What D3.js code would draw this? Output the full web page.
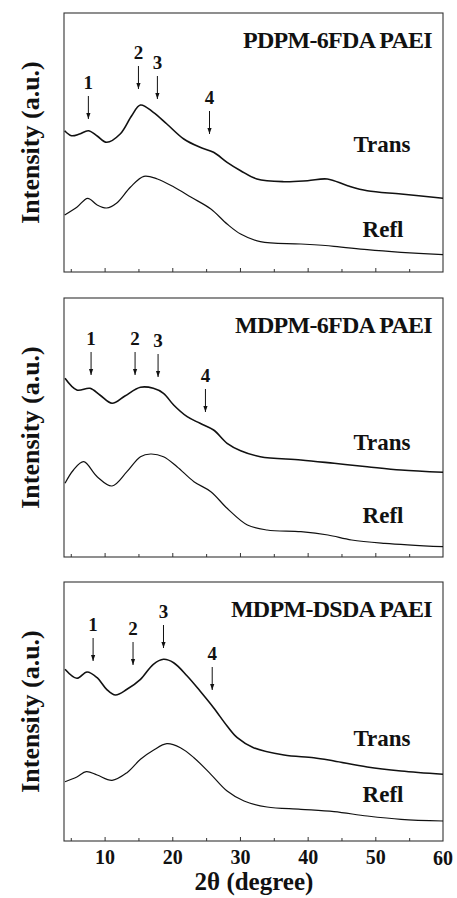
<!DOCTYPE html>
<html>
<head>
<meta charset="utf-8">
<script src="https://cdn.jsdelivr.net/npm/d3@7"></script>
<style>
  html, body { margin: 0; padding: 0; background: #fff; }
  svg { display: block; }
  text { font-family: "Liberation Serif", "Times New Roman", serif; font-weight: bold; fill: #111; }
</style>
</head>
<body>
<svg id="chart" width="457" height="898"></svg>
<script>
// ---------------- DATA ----------------
const xTickValues = [10, 20, 30, 40, 50, 60];
const panelTitles = ["PDPM-6FDA PAEI", "MDPM-6FDA PAEI", "MDPM-DSDA PAEI"];
const seriesNames = ["Trans", "Refl"];
const peakLabels = ["1", "2", "3", "4"];

// peak positions (2θ) marked by arrows
const peaks1 = [7.6, 15.0, 17.8, 25.5];
const peaks2 = [8.0, 14.5, 17.9, 24.9];
const peaks3 = [8.3, 14.2, 18.7, 25.9];

// intensity (a.u.) at the arrow tips
const peakTips1 = [153, 183, 173, 138];
const peakTips2 = [182, 182, 180, 145];
const peakTips3 = [180, 176, 193, 151];

// [2θ, intensity] — PDPM-6FDA PAEI
const trans1 = [[4.1,141.3],[5.1,136.3],[6.3,138],[7.6,141.3],[8.9,136],[10.3,129.7],[12.3,138],[14.0,156.3],[15.3,167],[17.2,159.7],[19.2,148],[21.7,133],[24.1,124.7],[26.1,119.7],[28.1,109.7],[30.1,101.3],[32.5,93],[36.5,90.3],[40.0,91.3],[42.9,93],[45.9,86.3],[48.8,81.3],[53.8,78],[60,73.7]];
const refl1 = [[4.1,57],[5.9,64.7],[7.5,73.7],[8.9,67],[10.3,64],[11.8,69],[13.8,84.7],[15.8,95.7],[17.8,93],[20.3,84.7],[22.8,74.7],[25.7,63],[28.1,48],[30.1,38],[33.0,30.3],[39.0,28],[43.9,25.7],[48.8,22.3],[53.8,19.7],[60,17.3]];

// MDPM-6FDA PAEI
const trans2 = [[4.15,178.7],[5.9,167],[7.85,168.7],[9.3,162],[11.1,153.7],[13.0,161],[15.3,169.7],[17.2,168.7],[18.7,163.7],[20.2,152],[22.2,140.3],[24.1,133.7],[26.1,127],[28.1,113.7],[30.1,106.3],[33.0,100.3],[39.0,97],[43.9,93.7],[48.8,90.3],[53.8,87],[60,84.7]];
const refl2 = [[4.15,73.7],[5.4,87],[6.9,95.3],[8.9,80.3],[11.1,71],[13.3,85.3],[15.3,100.3],[16.8,103],[18.7,100.3],[20.7,90.3],[23.2,75.3],[25.7,65.3],[28.1,48.7],[31.1,32],[34.0,27],[39.0,25.3],[43.0,22],[46.5,17],[51.4,13.7],[60,10.3]];

// MDPM-DSDA PAEI
const trans3 = [[4.15,171.7],[5.9,162.7],[7.4,169],[8.9,163.3],[10.3,151.7],[11.6,146],[13.3,151.7],[15.3,161.7],[17.2,176.7],[18.7,181.7],[20.2,178.3],[22.2,165],[24.1,150],[26.1,133.3],[28.1,115],[29.6,103.3],[32.0,93.3],[36.5,86],[40.9,83.3],[43.9,80],[48.8,74],[53.8,70],[60,66.7]];
const refl3 = [[4.15,59.3],[5.9,64],[7.3,69.3],[8.9,66],[11.1,60.7],[13.3,68.3],[15.3,81.7],[17.2,90.7],[19.2,97.3],[21.2,93.3],[23.2,83.3],[25.7,66.7],[28.1,50],[30.6,40],[34.0,34],[39.0,31.7],[43.9,29.3],[48.8,25],[53.8,21.7],[60,20]];

// ---------------- LAYOUT ----------------
const FONT = "'Liberation Serif', 'Times New Roman', serif";
const svg = d3.select("#chart");
const left = 64, right = 443, panelH = 259;
const panelTops = [13, 298, 582];
const transLabelY = [121, 108, 96];  // px above panel bottom
const reflLabelY = [36, 35, 40];

const panels = [
  { title: panelTitles[0], trans: trans1, refl: refl1, peaks: peaks1, tips: peakTips1 },
  { title: panelTitles[1], trans: trans2, refl: refl2, peaks: peaks2, tips: peakTips2 },
  { title: panelTitles[2], trans: trans3, refl: refl3, peaks: peaks3, tips: peakTips3 }
];

const x = d3.scaleLinear().domain([4, 60]).range([left, right]);

// arrowhead marker
svg.append("defs").append("marker")
  .attr("id", "arrow").attr("viewBox", "0 0 10 10")
  .attr("refX", 10).attr("refY", 5)
  .attr("markerWidth", 7).attr("markerHeight", 6)
  .attr("markerUnits", "userSpaceOnUse")
  .attr("orient", "auto")
  .append("path").attr("d", "M0,1.5 L10,5 L0,8.5 Z").attr("fill", "#111");

function label(g, txt, px, py, size, anchor) {
  return g.append("text").attr("x", px).attr("y", py)
    .attr("text-anchor", anchor || "middle")
    .attr("font-family", FONT).attr("font-weight", "bold")
    .style("font-size", size + "px").text(txt);
}

panels.forEach((p, i) => {
  const top = panelTops[i], bottom = top + panelH;
  const y = d3.scaleLinear().domain([0, panelH]).range([bottom, top]);
  const g = svg.append("g");

  // frame
  g.append("rect").attr("x", left).attr("y", top)
    .attr("width", right - left).attr("height", panelH)
    .attr("fill", "none").attr("stroke", "#333").attr("stroke-width", 1.1);

  // bottom axis ticks (inward)
  const axis = d3.axisBottom(x)
    .tickValues(d3.range(5, 60, 5))
    .tickSize(-4)
    .tickFormat(d => (i === 2 && xTickValues.includes(d)) ? d : "");
  const ag = g.append("g").attr("transform", `translate(0,${bottom})`).call(axis);
  ag.attr("font-family", FONT).attr("font-size", 20);
  ag.select(".domain").remove();
  ag.selectAll(".tick line").attr("stroke", "#333")
    .attr("y2", d => (d % 10 === 0) ? -4 : -3);
  ag.selectAll(".tick text")
    .attr("y", 9).attr("dy", "0.71em")
    .attr("font-weight", "bold").attr("fill", "#111");
  if (i === 2) label(g, 60, right, bottom + 24, 20);

  const line = d3.line().x(d => x(d[0])).y(d => y(d[1]))
    .curve(d3.curveCatmullRom.alpha(0.5));

  g.append("path").datum(p.trans).attr("d", line)
    .attr("fill", "none").attr("stroke", "#111").attr("stroke-width", 1.6);
  g.append("path").datum(p.refl).attr("d", line)
    .attr("fill", "none").attr("stroke", "#111").attr("stroke-width", 1.2);

  // title
  label(g, p.title, 432, top + 35, 24, "end").attr("letter-spacing", "-0.7");

  // series labels
  label(g, seriesNames[0], 382, bottom - transLabelY[i] + 1, 23);
  label(g, seriesNames[1], 383, bottom - reflLabelY[i] + 1, 23);

  // peak arrows
  p.peaks.forEach((pk, k) => {
    const tipY = y(p.tips[k]);
    g.append("line")
      .attr("x1", x(pk)).attr("x2", x(pk))
      .attr("y1", tipY - 23).attr("y2", tipY)
      .attr("stroke", "#111").attr("stroke-width", 1)
      .attr("marker-end", "url(#arrow)");
    label(g, peakLabels[k], x(pk), tipY - 30, 19);
  });

  // y label
  g.append("text")
    .attr("transform", `translate(39,${top + panelH / 2}) rotate(-90)`)
    .attr("text-anchor", "middle")
    .attr("font-family", FONT).attr("font-weight", "bold")
    .style("font-size", "26px")
    .text("Intensity (a.u.)");
});

// x axis title
label(svg, "2θ (degree)", 254, 890, 25);
</script>
</body>
</html>
